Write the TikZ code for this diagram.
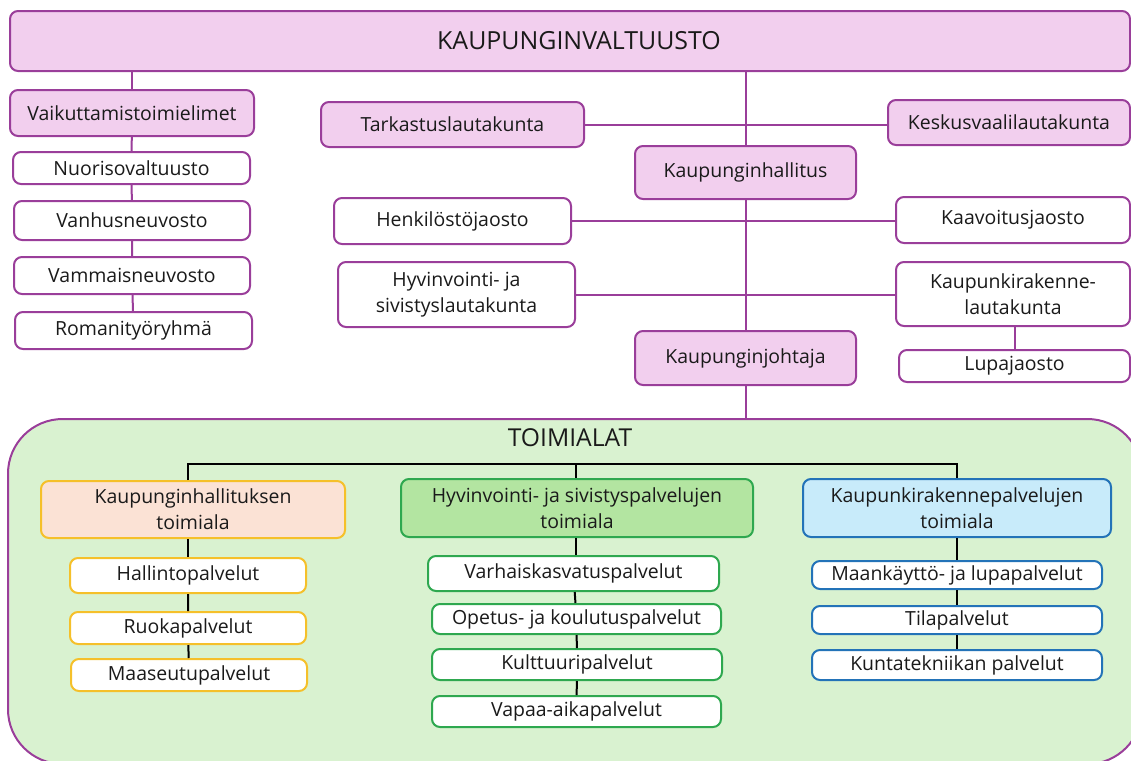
\documentclass[tikz,border=0pt]{standalone}
\usepackage{fontspec}
\setmainfont{Open Sans}
\usepackage{tikz}
\usetikzlibrary{positioning}

\definecolor{kvborder}{HTML}{9A3E9A}
\definecolor{kvfill}{HTML}{F2CFEE}
\definecolor{panelfill}{HTML}{D9F2D0}
\definecolor{khborder}{HTML}{F5C02A}
\definecolor{khfill}{HTML}{FBE2D5}
\definecolor{hyborder}{HTML}{2EA84F}
\definecolor{hyfill}{HTML}{B3E5A1}
\definecolor{krborder}{HTML}{2373B8}
\definecolor{krfill}{HTML}{C8EBFA}
\definecolor{txt}{HTML}{1A1A1A}

\begin{document}
\begin{tikzpicture}[
    x=0.75pt, y=-0.75pt,
    sz/.style 2 args={minimum width=#1*0.75pt, minimum height=#2*0.75pt},
    box/.style={rectangle, draw=kvborder, line width=1.5pt, rounded corners=6pt, fill=white, inner sep=1pt, align=center, text=txt, font=\fontsize{14.6}{19.5}\selectfont},
    organ/.style={box, fill=kvfill},
    khbox/.style={box, draw=khborder},
    hybox/.style={box, draw=hyborder},
    krbox/.style={box, draw=krborder},
    link/.style={draw=kvborder, line width=1.5pt},
    bus/.style={draw=black, line width=1.5pt}
]
\useasboundingbox (0,0) rectangle (1131,760);
\clip (0,0) rectangle (1131,760);

% toimialat panel
\node[draw=kvborder, fill=panelfill, line width=1.5pt, rounded corners=41pt, sz={1134}{345}] (panel) at (575,591.5) {};
\node[text=txt, font=\fontsize{18.5}{22}\selectfont] (toimialat) at (570,438) {TOIMIALAT};

% luottamuselimet
\node[organ, sz={1120}{60}, font=\fontsize{18.7}{22}\selectfont] (valtuusto) at (570,41) {\hspace*{13.5pt}KAUPUNGINVALTUUSTO};
\node[organ, sz={244}{46}] (vaik) at (132,113) {Vaikuttamistoimielimet};
\node[box, sz={237}{32}] (nuoriso) at (131.5,168) {Nuorisovaltuusto};
\node[box, sz={236}{39}] (vanhus) at (132,220.5) {Vanhusneuvosto};
\node[box, sz={236}{37}] (vammais) at (132,275.5) {Vammaisneuvosto};
\node[box, sz={237}{37}] (romani) at (133.5,330.5) {Romanityöryhmä};

\node[organ, sz={263}{45}] (tarkastus) at (452.5,124.5) {Tarkastuslautakunta};
\node[organ, sz={242}{45}] (keskus) at (1009,122.5) {Keskusvaalilautakunta};
\node[organ, sz={221}{53}] (hallitus) at (745.5,172.5) {Kaupunginhallitus};
\node[box, sz={237}{46}] (henkilosto) at (452.5,221) {Henkilöstöjaosto};
\node[box, sz={234}{46}] (kaavoitus) at (1013,220) {Kaavoitusjaosto};
\node[box, sz={237}{65}] (hyvltk) at (456.5,294.5) {Hyvinvointi- ja\\sivistyslautakunta};
\node[box, sz={234}{64}] (krltk) at (1013,294) {Kaupunkirakenne-\\lautakunta};
\node[box, sz={231}{32}] (lupa) at (1014.5,366) {Lupajaosto};
\node[organ, sz={221}{54}] (johtaja) at (745.5,358) {Kaupunginjohtaja};

\draw[link] (valtuusto.south -| vaik) -- (vaik.north);
\draw[link] (vaik) -- (nuoriso) -- (vanhus) -- (vammais) -- (romani);
\draw[link] (tarkastus.east) -- (tarkastus.east -| keskus.west);
\draw[link] (valtuusto.south -| 746,0) -- (hallitus.north -| 746,0);
\draw[link] (henkilosto.east) -- (henkilosto.east -| kaavoitus.west);
\draw[link] (hyvltk.east) -- (hyvltk.east -| krltk.west);
\draw[link] (hallitus.south -| 746,0) -- (johtaja.north -| 746,0);
\draw[link] (johtaja.south -| 746,0) -- (panel.north -| 746,0);
\draw[link] (krltk.south -| lupa) -- (lupa.north);

% toimialat
\node[khbox, fill=khfill, sz={304}{57}] (khtoimi) at (193,509.5) {Kaupunginhallituksen\\toimiala};
\node[khbox, sz={236}{35}] (hallinto) at (188,575.5) {Hallintopalvelut};
\node[khbox, sz={236}{32}] (ruoka) at (188,628) {Ruokapalvelut};
\node[khbox, sz={236}{32}] (maaseutu) at (189,675) {Maaseutupalvelut};

\node[hybox, fill=hyfill, sz={352}{58}] (hytoimi) at (577,508) {Hyvinvointi- ja sivistyspalvelujen\\toimiala};
\node[hybox, sz={291}{35}] (varhais) at (573.5,573.5) {Varhaiskasvatuspalvelut};
\node[hybox, sz={289}{30}] (opetus) at (576.5,619) {Opetus- ja koulutuspalvelut};
\node[hybox, sz={290}{31}] (kulttuuri) at (577,664.5) {Kulttuuripalvelut};
\node[hybox, sz={289}{31}] (vapaa) at (576.5,711.5) {Vapaa-aikapalvelut};

\node[krbox, fill=krfill, sz={308}{58}] (krtoimi) at (957,508) {Kaupunkirakennepalvelujen\\toimiala};
\node[krbox, sz={290}{28}] (maankaytto) at (957,575) {Maankäyttö- ja lupapalvelut};
\node[krbox, sz={290}{28}] (tila) at (957,620) {Tilapalvelut};
\node[krbox, sz={290}{30}] (kunta) at (957,665) {Kuntatekniikan palvelut};

\coordinate (busline) at (0,464);
\draw[bus] (khtoimi.north -| hallinto) |- (busline -| krtoimi) -- (krtoimi.north);
\draw[bus] (busline -| 576,0) -- (hytoimi.north -| 576,0);
\draw[bus] (khtoimi.south -| hallinto) -- (hallinto.north);
\draw[bus] (hallinto) -- (ruoka) -- (maaseutu);
\draw[bus] (hytoimi.south -| 576,0) -- (varhais.north -| 576,0);
\draw[bus] (varhais) -- (opetus) -- (kulttuuri) -- (vapaa);
\draw[bus] (krtoimi) -- (maankaytto);
\draw[bus] (maankaytto) -- (tila) -- (kunta);

\end{tikzpicture}
\end{document}
